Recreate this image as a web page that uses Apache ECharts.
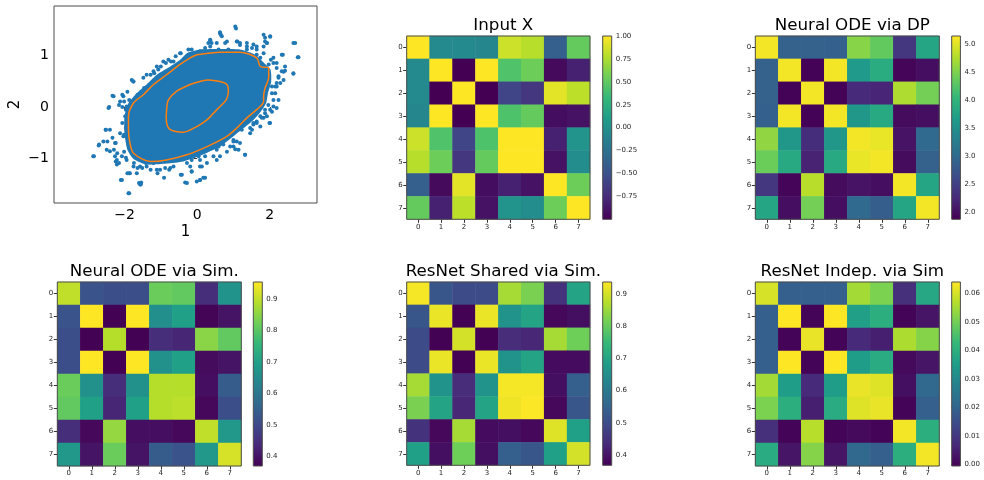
<!DOCTYPE html>
<html><head><meta charset="utf-8">
<script src="https://cdn.jsdelivr.net/npm/echarts@6/dist/echarts.min.js"></script>
<style>html,body{margin:0;padding:0;background:#fff}#c{width:984px;height:480px}</style>
</head><body><div id="c"></div><script>
// ---------------- DATA ----------------
const CELLS = ['0','1','2','3','4','5','6','7'];

// scatter panel (data coordinates)
const SCATTER_X_TICKS = [-2, 0, 2];
const SCATTER_Y_TICKS = [-1, 0, 1];
const SCATTER_X_RANGE = [-3.94, 3.3];
const SCATTER_Y_RANGE = [-1.87, 1.97];
// dense (saturated) core of the point cloud
const DENSE_CORE = [[-0.28,1.05],[0.08,1.12],[0.63,1.13],[1.18,1.12],[1.60,1.02],[1.83,0.87],[2.02,0.73],[2.04,0.50],[1.95,0.27],[1.90,0.08],[1.76,-0.08],[1.55,-0.25],[1.28,-0.41],[1.00,-0.57],[0.63,-0.77],[0.08,-0.95],[-0.38,-1.06],[-0.84,-1.10],[-1.39,-1.12],[-1.75,-1.01],[-1.92,-0.83],[-2.00,-0.51],[-2.00,-0.18],[-1.89,0.08],[-1.66,0.27],[-1.39,0.44],[-1.11,0.63],[-0.74,0.79],[-0.47,0.92]];
// individually visible points
const SCATTER_POINTS = [[1.05,1.57],[1.07,1.53],[0.63,1.46],[0.65,1.41],[0.36,1.30],[0.31,1.25],[0.82,1.28],[1.11,1.28],[1.18,1.25],[1.37,1.25],[1.55,1.22],[1.83,1.41],[1.87,1.35],[2.01,1.37],[1.87,1.28],[1.92,1.25],[1.83,1.18],[1.64,1.12],[2.65,1.25],[2.77,0.97],[2.36,1.02],[2.10,0.86],[2.19,0.76],[2.33,0.70],[2.42,0.71],[2.24,0.57],[2.65,0.65],[2.19,0.40],[2.06,0.40],[2.15,0.27],[2.24,0.14],[2.01,-0.05],[1.99,-0.31],[1.83,-0.21],[1.64,-0.31],[1.55,-0.34],[1.32,-0.93],[1.00,-0.64],[0.91,-0.77],[0.59,-0.77],[0.54,-1.03],[0.45,-0.96],[0.17,-1.38],[0.08,-1.42],[-0.10,-0.96],[-0.15,-1.25],[-0.33,-1.47],[-0.42,-1.32],[-0.74,-1.19],[-0.88,-1.19],[-1.02,-1.22],[-1.11,-1.22],[-1.20,-1.09],[-1.39,-1.16],[-1.57,-1.16],[-1.66,-1.29],[-1.85,-1.29],[-1.89,-1.68],[-1.57,-1.51],[-1.54,-1.47],[-2.07,-1.42],[-2.21,-1.12],[-2.21,-1.03],[-2.26,-0.96],[-2.40,-0.86],[-2.49,-0.83],[-2.58,-0.67],[-2.71,-0.75],[-2.86,-0.96],[-2.51,-0.44],[-2.40,-0.44],[-2.44,-0.02],[-2.30,0.21],[-2.12,0.11],[-2.03,0.21],[-1.75,0.50],[-1.80,0.53],[-1.48,0.57],[-1.39,0.63],[-1.20,0.70],[-1.11,0.79],[-0.93,0.89],[-0.79,0.92],[-0.65,0.89],[-0.47,1.05],[-0.15,1.12],[0.36,1.18],[0.54,1.25],[0.08,1.09],[1.18,1.05],[1.37,1.12],[1.46,1.02],[1.64,1.02],[1.74,0.96],[1.97,0.83],[-1.98,-0.18],[-1.94,0.01],[-2.03,-0.57],[-2.12,-0.51],[-2.26,-0.70],[-2.07,-0.96],[-1.94,-1.03],[-1.75,-1.16],[-1.48,-0.96],[-1.20,-0.96],[-0.65,-1.16],[-0.28,-1.09],[0.08,-1.16],[0.27,-1.09],[0.63,-0.96],[1.00,-0.77],[1.18,-0.70],[1.46,-0.51],[1.74,-0.38],[1.92,-0.18],[2.10,0.01],[2.19,0.47],[2.38,0.53],[2.03,0.92],[1.83,1.05],
 [-0.45,1.05],[-0.59,0.99],[-0.72,0.89],[-0.86,0.86],[-1.00,0.79],[-1.07,0.73],[-1.18,0.66],[-1.28,0.63],[-1.14,0.53],[-1.32,0.43],[-1.46,0.37],[-1.51,0.30],[-1.64,0.24],[-1.76,0.50],[-1.92,0.30],[-2.06,0.24],[-2.33,0.22],[-2.01,0.11],[-1.87,0.14],[-1.74,0.11],[-2.42,0.00],[-2.06,0.00],[-1.96,-0.05],[-1.87,-0.09],[-2.15,0.04],
 [0.63,1.44],[0.68,1.38],[0.36,1.31],[0.40,1.25],[0.77,1.25],[1.09,1.28],[1.18,1.21],[1.37,1.18],[1.51,1.15],[1.64,1.18],[1.92,1.25],[2.01,1.38],[2.33,1.02],[2.70,1.25],[2.79,0.97],[2.10,0.96],[2.19,0.86],[2.42,0.79],[2.38,0.69],[2.65,0.66],[2.24,0.60],[2.29,0.47],[2.15,0.40],[2.06,0.27],[2.10,0.14],[1.96,0.04],[2.19,-0.02],[1.87,-0.05],[-0.24,1.12],[0.04,1.05],[0.22,1.15],[0.59,1.12],[0.86,1.12],
 [-2.52,-0.44],[-2.70,-0.73],[-2.47,-0.67],[-2.84,-0.96],[-2.33,-0.60],[-2.24,-0.70],[-2.29,-0.83],[-2.20,-0.90],[-2.24,-1.06],[-2.15,-1.09],[-2.01,-0.87],[-1.96,-0.99],[-1.92,-1.29],[-2.10,-1.42],[-1.87,-1.29],[-1.87,-1.68],[-1.55,-1.51],[-1.60,-1.48],[-1.74,-1.09],[-1.64,-1.19],[-1.51,-1.19],[-1.28,-1.22],[-1.09,-1.29],[-0.91,-1.38],[-0.77,-1.22],[-0.45,-1.32],[-2.06,-0.31],[-1.96,-0.41],[-2.01,-0.54],[-1.87,-0.70],[-1.78,-0.83],[-1.64,-0.96],[-1.41,-1.09],
 [2.01,-0.31],[1.87,-0.12],[1.78,-0.21],[1.55,-0.31],[1.46,-0.41],[1.32,-0.93],[1.14,-0.83],[1.05,-0.82],[0.82,-0.87],[1.09,-0.67],[1.00,-0.67],[0.54,-0.83],[0.50,-0.70],[0.22,-0.96],[0.08,-1.03],[0.04,-0.96],[-0.15,-1.03],[-0.19,-1.16],[-0.15,-1.26],[0.13,-1.16],[-0.28,-1.48],[-0.01,-1.45],[0.08,-1.42],[0.22,-1.38],[0.72,-0.73],[1.23,-0.44],[1.51,-0.44],[1.64,-0.28],[1.74,-0.18],[2.06,-0.09]];
const CONTOUR_OUTER = [[-0.01,1.02],[0.63,1.07],[1.18,1.07],[1.64,0.96],[1.74,0.79],[1.97,0.76],[1.97,0.57],[1.87,0.37],[1.83,0.21],[1.83,0.11],[1.64,-0.05],[1.37,-0.21],[1.09,-0.41],[0.82,-0.57],[0.27,-0.77],[-0.28,-0.93],[-0.84,-1.03],[-1.29,-1.06],[-1.75,-0.90],[-1.85,-0.70],[-1.89,-0.44],[-1.89,-0.18],[-1.75,0.08],[-1.48,0.24],[-1.20,0.44],[-0.84,0.63],[-0.47,0.83],[-0.19,0.96],[-0.01,1.02]];
const CONTOUR_INNER = [[-0.84,-0.05],[-0.79,0.14],[-0.56,0.31],[-0.19,0.44],[0.08,0.50],[0.31,0.53],[0.63,0.50],[0.82,0.44],[0.86,0.31],[0.80,0.14],[0.63,0.01],[0.45,-0.12],[0.27,-0.25],[-0.01,-0.38],[-0.38,-0.49],[-0.74,-0.44],[-0.84,-0.31],[-0.85,-0.18],[-0.84,-0.05]];

// heatmap matrices (row, column)
const INPUT_X = [
 [1.00,-0.05,-0.05,-0.07,0.85,0.78,-0.40,0.52],
 [-0.05,1.00,-1.00,1.00,0.44,0.55,-0.95,-0.82],
 [-0.05,-1.00,1.00,-1.00,-0.58,-0.68,0.92,0.80],
 [-0.07,1.00,-1.00,1.00,0.43,0.52,-0.93,-0.90],
 [0.85,0.44,-0.58,0.43,1.00,1.00,-0.82,0.03],
 [0.78,0.55,-0.68,0.52,1.00,1.00,-0.90,-0.03],
 [-0.40,-0.95,0.92,-0.93,-0.82,-0.90,1.00,0.55],
 [0.52,-0.82,0.80,-0.90,0.03,-0.03,0.55,1.00]];
const NODE_DP = [
 [5.10,2.90,2.90,2.88,4.55,4.35,2.40,3.80],
 [2.90,5.10,1.90,5.10,3.65,3.90,1.93,2.00],
 [2.90,1.90,5.10,1.90,2.28,2.22,4.75,4.45],
 [2.88,5.10,1.90,5.10,3.60,3.85,1.98,2.00],
 [4.60,3.60,2.30,3.60,5.10,5.05,2.05,3.00],
 [4.40,3.85,2.20,3.85,5.05,5.10,1.97,2.90],
 [2.40,1.93,4.80,1.97,2.05,2.00,5.10,3.80],
 [3.80,2.00,4.45,2.00,3.00,2.85,3.80,5.10]];
const NODE_SIM = [
 [0.90,0.52,0.51,0.51,0.82,0.81,0.445,0.67],
 [0.52,0.955,0.37,0.955,0.66,0.70,0.375,0.40],
 [0.51,0.37,0.89,0.37,0.445,0.43,0.85,0.81],
 [0.51,0.955,0.37,0.955,0.665,0.70,0.385,0.40],
 [0.82,0.665,0.445,0.665,0.89,0.89,0.39,0.54],
 [0.81,0.70,0.43,0.70,0.89,0.895,0.38,0.51],
 [0.445,0.38,0.86,0.39,0.39,0.38,0.90,0.68],
 [0.68,0.40,0.82,0.40,0.54,0.52,0.68,0.92]];
const RESNET_SHARED = [
 [0.93,0.52,0.50,0.50,0.86,0.82,0.45,0.70],
 [0.52,0.92,0.37,0.92,0.66,0.70,0.38,0.39],
 [0.50,0.37,0.90,0.37,0.44,0.43,0.86,0.81],
 [0.50,0.92,0.37,0.92,0.66,0.70,0.385,0.385],
 [0.86,0.66,0.44,0.66,0.93,0.93,0.39,0.54],
 [0.82,0.70,0.43,0.70,0.925,0.935,0.38,0.52],
 [0.45,0.38,0.86,0.385,0.39,0.38,0.91,0.69],
 [0.69,0.39,0.81,0.39,0.54,0.52,0.69,0.90]];
const RESNET_INDEP = [
 [0.060,0.019,0.019,0.019,0.055,0.051,0.008,0.038],
 [0.019,0.064,0.000,0.064,0.036,0.040,0.000,0.003],
 [0.019,0.000,0.062,0.000,0.007,0.005,0.056,0.052],
 [0.019,0.064,0.000,0.064,0.035,0.039,0.001,0.003],
 [0.055,0.035,0.007,0.035,0.062,0.061,0.002,0.021],
 [0.051,0.040,0.005,0.039,0.061,0.062,0.000,0.019],
 [0.008,0.000,0.057,0.000,0.001,0.000,0.063,0.040],
 [0.039,0.003,0.052,0.003,0.021,0.019,0.040,0.063]];

const TITLES = ['Input X','Neural ODE via DP','Neural ODE via Sim.','ResNet Shared via Sim.','ResNet Indep. via Sim'];
const RANGES = [[-1.0,1.0],[1.88,5.15],[0.369,0.955],[0.368,0.937],[-0.0006,0.064]];
const CB_TICKS = [
 [-0.75,-0.5,-0.25,0,0.25,0.5,0.75,1.0],
 [2.0,2.5,3.0,3.5,4.0,4.5,5.0],
 [0.4,0.5,0.6,0.7,0.8,0.9],
 [0.4,0.5,0.6,0.7,0.8,0.9],
 [0,0.01,0.02,0.03,0.04,0.05,0.06]];
const CB_DECIMALS = [2,1,1,1,2];
const MATRICES = [INPUT_X, NODE_DP, NODE_SIM, RESNET_SHARED, RESNET_INDEP];

// ---------------- LAYOUT / STYLE ----------------
const VIRIDIS = ['#440154','#482878','#3e4989','#31688e','#26828e','#1f9e89','#35b779','#6ece58','#b5de2b','#fde725'];
const FONT = 'DejaVu Sans';
const FRAME = '#4d4d4d';
const LAYOUT = [
 {box:[406.7,36,183.3,183.3], cb:[602.7,36,9,183.3], tx:498.3, ty:12},
 {box:[755.3,36,184,183.3],   cb:[951.7,36,8.7,183.3], tx:847.3, ty:12},
 {box:[57.3,282,184,184],     cb:[253.3,282,9,184], tx:149.3, ty:258},
 {box:[406.7,282,183.3,183.3],cb:[602.7,282,9,183.3], tx:498.3, ty:258},
 {box:[755.3,282,184,184],    cb:[951.7,282,8.7,184], tx:847.3, ty:258}];

const minus = s => s.replace('-', '\u2212');

const grids = [{left:54, top:6, width:263, height:197, show:true, borderColor:FRAME, borderWidth:1, backgroundColor:'transparent'}];
const xAxes = [{gridIndex:0, type:'value', min:SCATTER_X_RANGE[0], max:SCATTER_X_RANGE[1],
  axisLine:{show:false}, splitLine:{show:false},
  axisTick:{show:true, customValues:SCATTER_X_TICKS, length:3.5, lineStyle:{color:'#333'}},
  axisLabel:{customValues:SCATTER_X_TICKS, fontFamily:FONT, fontSize:14, color:'#000', margin:5, formatter:v=>minus(String(v))},
  name:'1', nameLocation:'middle', nameGap:22, nameTextStyle:{fontFamily:FONT, fontSize:15, color:'#000'}}];
const yAxes = [{gridIndex:0, type:'value', min:SCATTER_Y_RANGE[0], max:SCATTER_Y_RANGE[1],
  axisLine:{show:false}, splitLine:{show:false},
  axisTick:{show:true, customValues:SCATTER_Y_TICKS, length:3.5, lineStyle:{color:'#333'}},
  axisLabel:{customValues:SCATTER_Y_TICKS, fontFamily:FONT, fontSize:14, color:'#000', margin:5, formatter:v=>minus(String(v))},
  name:'2', nameLocation:'middle', nameGap:31, nameRotate:90, nameTextStyle:{fontFamily:FONT, fontSize:15, color:'#000'}}];

const series = [
 {type:'custom', xAxisIndex:0, yAxisIndex:0, data:[0], silent:true, z:1,
  renderItem:(params, api) => ({type:'polygon', shape:{points:DENSE_CORE.map(p=>api.coord(p)), smooth:0.2}, style:{fill:'#1f77b4'}})},
 {type:'scatter', xAxisIndex:0, yAxisIndex:0, data:SCATTER_POINTS, symbolSize:4, itemStyle:{color:'#1f77b4', opacity:1}, silent:true, z:2},
 {type:'line', xAxisIndex:0, yAxisIndex:0, data:CONTOUR_OUTER, showSymbol:false, smooth:0.3, lineStyle:{color:'#ff7f0e', width:1.5}, silent:true, z:3},
 {type:'line', xAxisIndex:0, yAxisIndex:0, data:CONTOUR_INNER, showSymbol:false, smooth:0.3, lineStyle:{color:'#ff7f0e', width:1.5}, silent:true, z:3}];
const visualMaps = [];
const titles = [];

const catAxis = (gi, extra) => Object.assign({gridIndex:gi, type:'category', data:CELLS,
  axisLine:{show:false}, splitLine:{show:false},
  axisTick:{show:true, alignWithLabel:true, length:3.5, lineStyle:{color:'#333'}},
  axisLabel:{fontFamily:FONT, fontSize:7, color:'#262626', margin:4}}, extra||{});

MATRICES.forEach((M, i) => {
  const L = LAYOUT[i];
  const gh = grids.length;
  grids.push({left:L.box[0], top:L.box[1], width:L.box[2], height:L.box[3], show:true, borderColor:FRAME, borderWidth:1, backgroundColor:'transparent', z:5});
  xAxes.push(catAxis(gh));
  yAxes.push(catAxis(gh, {inverse:true}));
  const cells = [];
  M.forEach((row, r) => row.forEach((v, c) => cells.push([c, r, v])));
  visualMaps.push({type:'continuous', show:false, seriesIndex:series.length, dimension:2,
    min:RANGES[i][0], max:RANGES[i][1], inRange:{color:VIRIDIS}});
  series.push({type:'heatmap', xAxisIndex:gh, yAxisIndex:gh, data:cells, silent:true, itemStyle:{borderWidth:0}, emphasis:{disabled:true}});

  const gc = grids.length;
  grids.push({left:L.cb[0], top:L.cb[1], width:L.cb[2], height:L.cb[3], show:true, borderColor:FRAME, borderWidth:1, backgroundColor:'transparent', z:5});
  xAxes.push({gridIndex:gc, type:'value', min:0, max:1, show:false});
  const dec = CB_DECIMALS[i];
  yAxes.push({gridIndex:gc, type:'value', min:RANGES[i][0], max:RANGES[i][1], position:'right',
    axisLine:{show:false}, splitLine:{show:false},
    axisTick:{show:true, customValues:CB_TICKS[i], length:3.5, lineStyle:{color:'#333'}},
    axisLabel:{customValues:CB_TICKS[i], fontFamily:FONT, fontSize:7, color:'#262626', margin:4,
      formatter:v=>minus(Number(v).toFixed(dec))}});
  const lo = RANGES[i][0], hi = RANGES[i][1];
  series.push({type:'custom', xAxisIndex:gc, yAxisIndex:gc, data:[0], silent:true,
    renderItem:(params, api) => {
      const p0 = api.coord([0, hi]), p1 = api.coord([1, lo]);
      return {type:'rect', shape:{x:p0[0], y:p0[1], width:p1[0]-p0[0], height:p1[1]-p0[1]},
        style:{fill:{type:'linear', x:0, y:0, x2:0, y2:1,
          colorStops:VIRIDIS.map((c,k)=>({offset:k/9, color:VIRIDIS[9-k]}))}}};
    }});
  titles.push({text:TITLES[i], left:L.tx, top:L.ty, textAlign:'center',
    textStyle:{fontFamily:FONT, fontSize:16.7, fontWeight:'normal', color:'#000'}});
});

const chart = echarts.init(document.getElementById('c'), null, {renderer:'canvas'});
chart.setOption({animation:false, title:titles, grid:grids, xAxis:xAxes, yAxis:yAxes, visualMap:visualMaps, series:series});
</script></body></html>
